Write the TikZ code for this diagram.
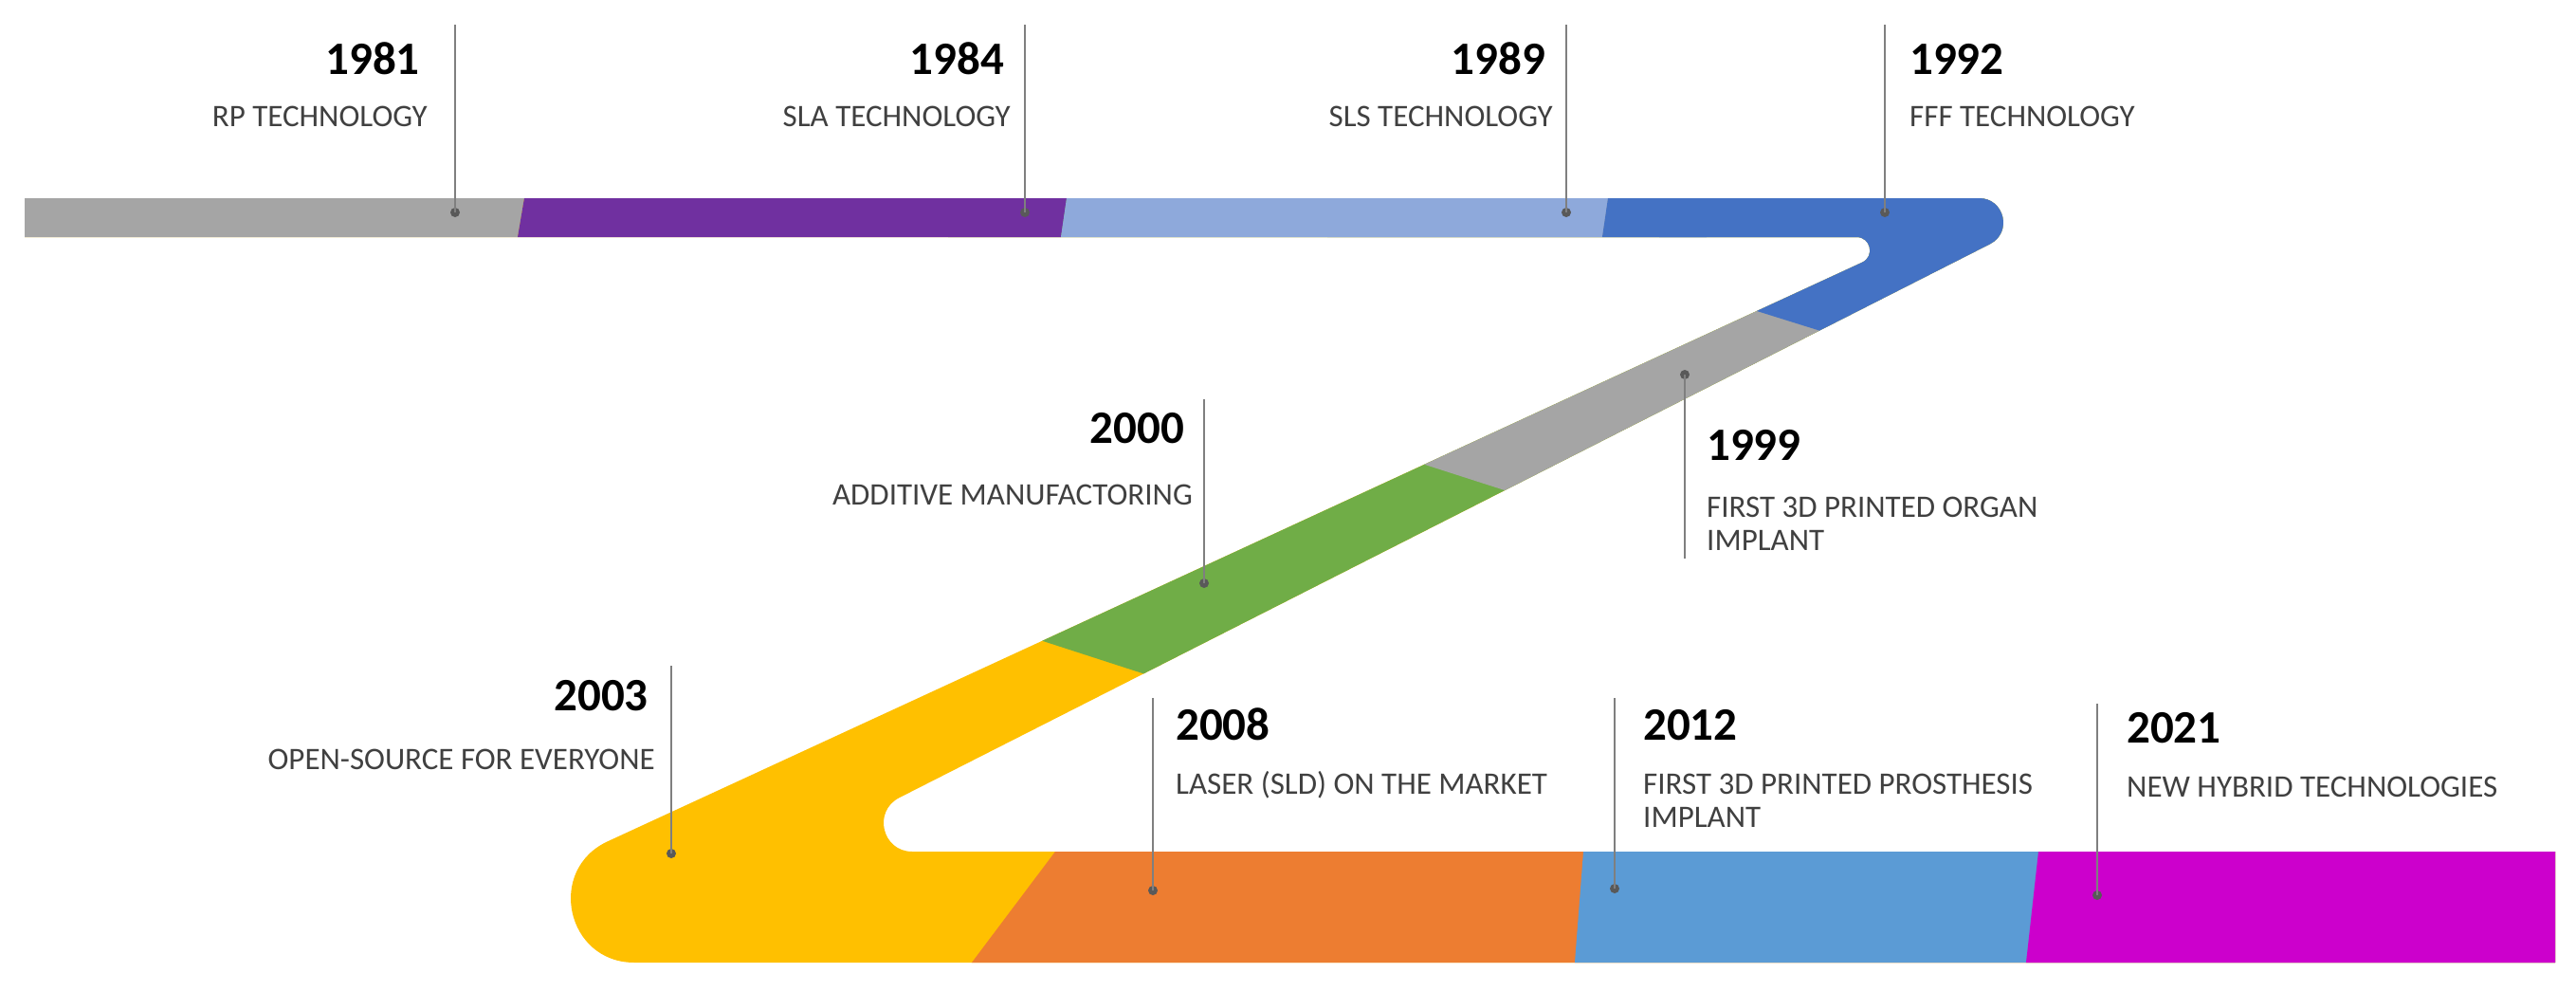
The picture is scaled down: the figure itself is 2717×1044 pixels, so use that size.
\documentclass[tikz,border=0pt]{standalone}
\usepackage{fontspec}
\setmainfont{Carlito}
\definecolor{cGray}{HTML}{A5A5A5}
\definecolor{cPurple}{HTML}{7030A0}
\definecolor{cLBlue}{HTML}{8EA9DB}
\definecolor{cBlue}{HTML}{4472C4}
\definecolor{cGreen}{HTML}{70AD47}
\definecolor{cYellow}{HTML}{FFC000}
\definecolor{cOrange}{HTML}{ED7D31}
\definecolor{cBlueB}{HTML}{5B9BD5}
\definecolor{cMag}{HTML}{CC00CC}
\definecolor{txtgray}{HTML}{404040}
\definecolor{leadgray}{HTML}{7F7F7F}
\definecolor{dotgray}{HTML}{595959}
\begin{document}
\begin{tikzpicture}[x=1pt,y=-1pt,
  yr/.style={font=\fontsize{49}{55}\selectfont\bfseries, text=black, inner sep=0pt},
  ds/.style={font=\fontsize{33}{36}\selectfont, text=txtgray, inner sep=0pt},
  lead/.style={draw=leadgray, line width=2pt},
  dotc/.style={circle, fill=dotgray, inner sep=0pt, minimum size=10pt}]
\useasboundingbox[fill=white] (0,0) rectangle (2717,1044);

% ---- Z-shaped ribbon ----
\begin{scope}
\clip (26,209) -- (2087.4,209) .. controls (2114.2,209) and (2122.8,245.2) .. (2098.9,257.3)
  -- (948.5,841.2) .. controls (920.3,855.5) and (930.5,898) .. (962.1,898)
  -- (2695,898) -- (2695,1015) -- (669.1,1015)
  .. controls (597.3,1015) and (575.8,917.3) .. (641,887.2)
  -- (1964.1,276.7) .. controls (1977.7,270.4) and (1973.2,250) .. (1958.2,250)
  -- (26,250) -- cycle;
% base: yellow
\fill[cYellow] (0,0) rectangle (2717,1044);
% bottom bar
\fill[cOrange] (1126.5,880) -- (2800,880) -- (2800,1030) -- (1013.7,1030) -- cycle;
\fill[cBlueB] (1671.4,880) -- (2800,880) -- (2800,1030) -- (1659.8,1030) -- cycle;
\fill[cMag] (2152,880) -- (2800,880) -- (2800,1030) -- (2135.3,1030) -- cycle;
% diagonal
\fill[cGreen] (1000,643.6) -- (1300,740.8) -- (2800,740.8) -- (2800,0) -- (1000,0) -- cycle;
\fill[cGray] (1400,456.9) -- (1700,553.3) -- (2800,553.3) -- (2800,0) -- (1400,0) -- cycle;
\fill[cBlue] (1750,295.8) -- (2000,373.9) -- (2800,373.9) -- (2800,0) -- (1750,0) -- cycle;
% top bar
\fill[cGray] (0,200) -- (554.5,200) -- (544.3,260) -- (0,260) -- cycle;
\fill[cPurple] (554.5,200) -- (1126.3,200) -- (1117.5,260) -- (544.3,260) -- cycle;
\fill[cLBlue] (1126.3,200) -- (1697.3,200) -- (1688.5,260) -- (1117.5,260) -- cycle;
\fill[cBlue] (1697.3,200) -- (1800,200) -- (1800,260) -- (1688.5,260) -- cycle;
\end{scope}

% ---- leader lines and dots ----
\coordinate (t1981) at (480,26);  \node[dotc] (p1981) at (480,224) {};
\coordinate (t1984) at (1081,26); \node[dotc] (p1984) at (1081,224) {};
\coordinate (t1989) at (1652,26); \node[dotc] (p1989) at (1652,224) {};
\coordinate (t1992) at (1988,26); \node[dotc] (p1992) at (1988,224) {};
\coordinate (t2000) at (1270,421); \node[dotc] (p2000) at (1270,615) {};
\node[dotc] (p1999) at (1777,395) {}; \coordinate (b1999) at (1777,589);
\coordinate (t2003) at (708,702); \node[dotc] (p2003) at (708,900) {};
\coordinate (t2008) at (1216,736); \node[dotc] (p2008) at (1216,939) {};
\coordinate (t2012) at (1703,736); \node[dotc] (p2012) at (1703,937) {};
\coordinate (t2021) at (2212,742); \node[dotc] (p2021) at (2212,944) {};
\draw[lead] (t1981) -- (p1981.center);
\draw[lead] (t1984) -- (p1984.center);
\draw[lead] (t1989) -- (p1989.center);
\draw[lead] (t1992) -- (p1992.center);
\draw[lead] (t2000) -- (p2000.center);
\draw[lead] (p1999.center) -- (b1999);
\draw[lead] (t2003) -- (p2003.center);
\draw[lead] (t2008) -- (p2008.center);
\draw[lead] (t2012) -- (p2012.center);
\draw[lead] (t2021) -- (p2021.center);

% ---- texts ----
\node[yr, anchor=base east] (y1981) at (443,78) {1981};
\node[ds, anchor=base east] (d1981) at (451,133) {RP TECHNOLOGY};
\node[yr, anchor=base east] (y1984) at (1059,78) {1984};
\node[ds, anchor=base east] (d1984) at (1066,133) {SLA TECHNOLOGY};
\node[yr, anchor=base east] (y1989) at (1630,78) {1989};
\node[ds, anchor=base east] (d1989) at (1638,133) {SLS TECHNOLOGY};
\node[yr, anchor=base west] (y1992) at (2014,78) {1992};
\node[ds, anchor=base west] (d1992) at (2014,133) {FFF TECHNOLOGY};
\node[yr, anchor=base east] (y2000) at (1249,467) {2000};
\node[ds, anchor=base east] (d2000) at (1258,532) {ADDITIVE MANUFACTORING};
\node[yr, anchor=base west] (y1999) at (1800,485) {1999};
\node[ds, anchor=base west] (d1999a) at (1800,545) {FIRST 3D PRINTED ORGAN};
\node[ds, anchor=base west] (d1999b) at (1800,580) {IMPLANT};
\node[yr, anchor=base east] (y2003) at (684,749) {2003};
\node[ds, anchor=base east] (d2003) at (691,811) {OPEN-SOURCE FOR EVERYONE};
\node[yr, anchor=base west] (y2008) at (1240,780) {2008};
\node[ds, anchor=base west] (d2008) at (1240,837) {LASER (SLD) ON THE MARKET};
\node[yr, anchor=base west] (y2012) at (1733,780) {2012};
\node[ds, anchor=base west] (d2012a) at (1733,837) {FIRST 3D PRINTED PROSTHESIS};
\node[ds, anchor=base west] (d2012b) at (1733,872) {IMPLANT};
\node[yr, anchor=base west] (y2021) at (2243,783) {2021};
\node[ds, anchor=base west] (d2021) at (2243,840) {NEW HYBRID TECHNOLOGIES};
\end{tikzpicture}
\end{document}
